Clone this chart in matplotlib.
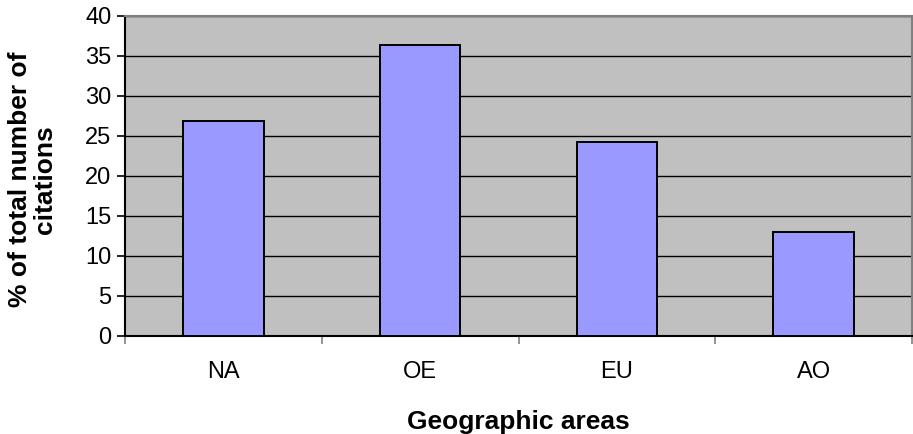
import matplotlib
matplotlib.use('Agg')
import matplotlib.pyplot as plt
import numpy as np

# share of citations by region
areas = ['NA', 'OE', 'EU', 'AO']
percent = [26.9, 36.4, 24.2, 13.0]

plt.rcParams['font.family'] = ['Liberation Sans', 'DejaVu Sans']

fig = plt.figure(figsize=(9.13, 4.34), dpi=100)
ax = fig.add_axes([125 / 913, 98 / 434, 787 / 913, 320 / 434])

x = np.arange(len(areas))
ax.set_facecolor('#C0C0C0')
ax.set_axisbelow(True)
ax.grid(axis='y', color='black', linewidth=1.0)
ax.bar(x, percent, width=0.41, color='#9999FF', edgecolor='black', linewidth=1.4, zorder=3)

ax.set_xlim(-0.5, len(areas) - 0.5)
ax.set_ylim(0, 40)
ax.set_yticks(range(0, 41, 5))

# category ticks sit between the groups, labels in the middle
ax.set_xticks(np.arange(-0.5, len(areas), 1.0))
ax.set_xticklabels([])
ax.set_xticks(x, minor=True)
ax.set_xticklabels(areas, minor=True)
ax.tick_params(axis='x', which='major', length=5.8, color='#808080', width=1.2)
ax.tick_params(axis='x', which='minor', length=0, pad=18, labelsize=17)
ax.tick_params(axis='y', length=5.8, width=1.2, labelsize=17, pad=4)

for side in ['top', 'right']:
    ax.spines[side].set_color('#808080')
    ax.spines[side].set_linewidth(1.5)
for side in ['left', 'bottom']:
    ax.spines[side].set_color('black')
    ax.spines[side].set_linewidth(1.5)

ax.set_xlabel('Geographic areas', fontsize=19, fontweight='bold')
ax.set_ylabel('% of total number of\ncitations', fontsize=19, fontweight='bold',
              linespacing=1.05)
ax.xaxis.set_label_coords(0.5, -0.23)
ax.yaxis.set_label_coords(-0.087, 0.49)

plt.savefig('out.png', dpi=100)
plt.close()
